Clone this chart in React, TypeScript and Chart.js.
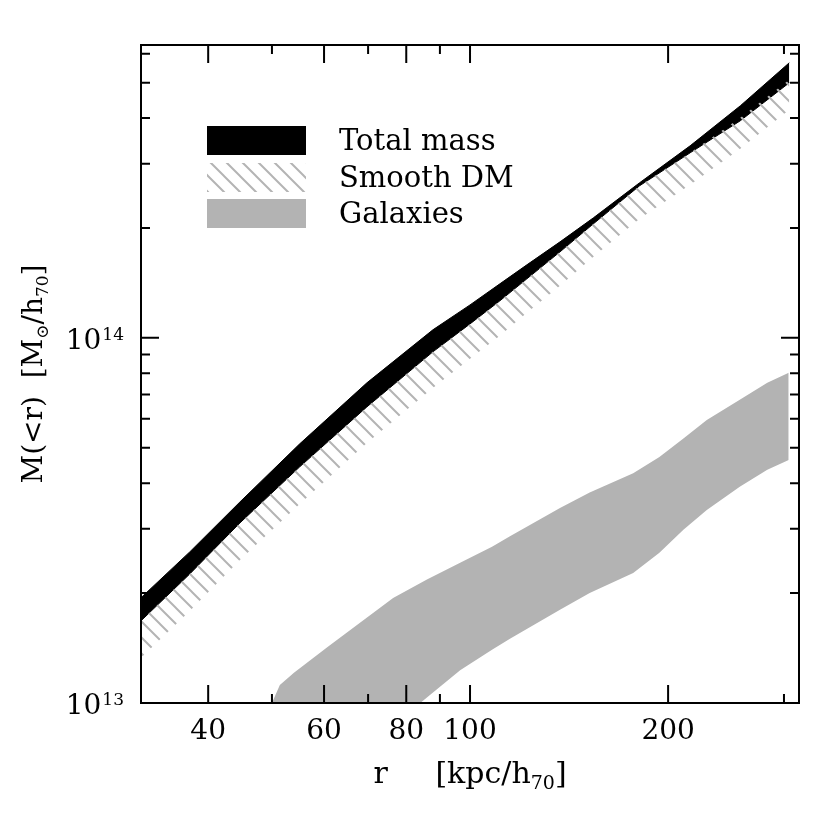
import { useEffect, useRef } from 'react';
import { Chart, registerables } from 'chart.js';

Chart.register(...registerables);

// ---- data ----
const rKpc = [30, 31.6, 37.5, 44.7, 55.1, 69.7, 87.8, 100, 111, 122, 137, 154, 181, 216, 257.5, 305.6];
const totalUpper = [1.764e13, 1.94e13, 2.593e13, 3.553e13, 5.125e13, 7.53e13, 1.052e14, 1.231e14, 1.406e14, 1.585e14, 1.832e14, 2.132e14, 2.659e14, 3.357e14, 4.321e14, 5.668e14];
const totalLower = [1.526e13, 1.677e13, 2.256e13, 3.113e13, 4.433e13, 6.47e13, 9.155e13, 1.092e14, 1.263e14, 1.451e14, 1.72e14, 2.053e14, 2.609e14, 3.212e14, 3.932e14, 4.996e14];
const smoothUpper = [1.526e13, 1.677e13, 2.256e13, 3.113e13, 4.433e13, 6.47e13, 9.155e13, 1.092e14, 1.263e14, 1.451e14, 1.72e14, 2.053e14, 2.609e14, 3.212e14, 4.006e14, 5.091e14];
const smoothLower = [1.208e13, 1.328e13, 1.786e13, 2.465e13, 3.51e13, 5.157e13, 7.295e13, 8.76e13, 1.013e14, 1.171e14, 1.389e14, 1.667e14, 2.118e14, 2.626e14, 3.295e14, 4.214e14];

const galR = [48, 50, 51.4, 54, 60.6, 76.4, 86, 96.6, 108, 115, 137, 152, 177, 194, 211, 229, 257, 283, 305];
const galUpper = [0.85e13, 1.0e13, 1.12e13, 1.21e13, 1.42e13, 1.94e13, 2.18e13, 2.42e13, 2.68e13, 2.86e13, 3.42e13, 3.77e13, 4.26e13, 4.72e13, 5.3e13, 5.96e13, 6.77e13, 7.53e13, 8.02e13];
const galLower = [4.3e12, 4.6e12, 4.8e12, 5.2e12, 6.1e12, 8.7e12, 1.035e13, 1.23e13, 1.4e13, 1.5e13, 1.8e13, 2.0e13, 2.27e13, 2.58e13, 2.98e13, 3.38e13, 3.91e13, 4.35e13, 4.63e13];

const xMin = 31.62;
const xMax = 316.2;
const yMin = 1e13;
const yMax = 6.34e14;

const xLabeledTicks = [40, 60, 80, 100, 200];
const xMinorTicks = [50, 70, 90, 300];
const yMajorTicks = [1e13, 1e14];
const yMajorExponents = ['13', '14'];
const yMinorTicks = [2e13, 3e13, 4e13, 5e13, 6e13, 7e13, 8e13, 9e13, 2e14, 3e14, 4e14, 5e14, 6e14];

const legendLabels = ['Total mass', 'Smooth DM', 'Galaxies'];

const FONT = '"DejaVu Serif", "Liberation Serif", serif';
const GRAY = '#b3b3b3';
const HATCH = '#b4b4b4';

type Part = { t: string; sub?: boolean };
const yTitle: Part[] = [{ t: 'M(<r)  [M' }, { t: '\u2299', sub: true }, { t: '/h' }, { t: '70', sub: true }, { t: ']' }];
const xTitle: Part[] = [{ t: 'r     [kpc/h' }, { t: '70', sub: true }, { t: ']' }];

function pts(xs: number[], ys: number[]) {
  return xs.map((x, i) => ({ x, y: ys[i] }));
}

function drawRich(ctx: CanvasRenderingContext2D, parts: Part[], cx: number, baseY: number, size: number) {
  const subSize = Math.round(size * 0.62);
  let total = 0;
  const widths = parts.map((p) => {
    ctx.font = `${p.sub ? subSize : size}px ${FONT}`;
    const w = ctx.measureText(p.t).width;
    total += w;
    return w;
  });
  let x = cx - total / 2;
  ctx.textAlign = 'left';
  ctx.textBaseline = 'alphabetic';
  parts.forEach((p, i) => {
    ctx.font = `${p.sub ? subSize : size}px ${FONT}`;
    ctx.fillText(p.t, x, baseY + (p.sub ? 6 : 0));
    x += widths[i];
  });
}

export default function App() {
  const ref = useRef<HTMLCanvasElement | null>(null);

  useEffect(() => {
    document.body.style.margin = '0';
    const canvas = ref.current!;
    const pc = document.createElement('canvas');
    pc.width = 16;
    pc.height = 16;
    const p = pc.getContext('2d')!;
    p.strokeStyle = HATCH;
    p.lineWidth = 2;
    p.beginPath();
    p.moveTo(-2, -2);
    p.lineTo(18, 18);
    p.moveTo(14, -2);
    p.lineTo(18, 2);
    p.moveTo(-2, 14);
    p.lineTo(2, 18);
    p.stroke();
    const ctx0 = canvas.getContext('2d')!;
    const hatch = ctx0.createPattern(pc, 'repeat')!;

    const decor = {
      id: 'decor',
      afterDraw(chart: any) {
        const ctx: CanvasRenderingContext2D = chart.ctx;
        const { left, right, top, bottom } = chart.chartArea;
        const xs = chart.scales.x;
        const ys = chart.scales.y;
        ctx.save();
        ctx.strokeStyle = '#000';
        ctx.fillStyle = '#000';
        ctx.lineWidth = 2;
        ctx.strokeRect(left, top, right - left, bottom - top);
        ctx.beginPath();
        const xt = (v: number, len: number) => {
          const px = xs.getPixelForValue(v);
          ctx.moveTo(px, bottom);
          ctx.lineTo(px, bottom - len);
          ctx.moveTo(px, top);
          ctx.lineTo(px, top + len);
        };
        const yt = (v: number, len: number) => {
          const py = ys.getPixelForValue(v);
          ctx.moveTo(left, py);
          ctx.lineTo(left + len, py);
          ctx.moveTo(right, py);
          ctx.lineTo(right - len, py);
        };
        xLabeledTicks.forEach((v) => xt(v, 18));
        xMinorTicks.forEach((v) => xt(v, 9));
        yMajorTicks.forEach((v) => yt(v, 18));
        yMinorTicks.forEach((v) => yt(v, 9));
        ctx.stroke();

        // x tick labels
        ctx.font = `28px ${FONT}`;
        ctx.textAlign = 'center';
        ctx.textBaseline = 'alphabetic';
        xLabeledTicks.forEach((v) => {
          ctx.fillText(String(v), xs.getPixelForValue(v), 739);
        });
        // y tick labels
        yMajorTicks.forEach((v, i) => {
          const py = ys.getPixelForValue(v);
          ctx.font = `17px ${FONT}`;
          ctx.textAlign = 'right';
          const sw = ctx.measureText(yMajorExponents[i]).width;
          ctx.fillText(yMajorExponents[i], 124, py + 2);
          ctx.font = `28px ${FONT}`;
          ctx.fillText('10', 124 - sw - 1, py + 11);
        });

        // axis titles
        drawRich(ctx, xTitle, (left + right) / 2, 783, 30);
        ctx.save();
        ctx.translate(42, (top + bottom) / 2);
        ctx.rotate(-Math.PI / 2);
        drawRich(ctx, yTitle, 0, 0, 28);
        ctx.restore();

        // legend
        const fills = ['#000', hatch, GRAY];
        const boxTops = [126, 163, 199];
        boxTops.forEach((bt, i) => {
          ctx.fillStyle = fills[i] as any;
          ctx.fillRect(207, bt, 99, 29);
          ctx.fillStyle = '#000';
          ctx.font = `29px ${FONT}`;
          ctx.textAlign = 'left';
          ctx.textBaseline = 'alphabetic';
          ctx.fillText(legendLabels[i], 339, bt + 24);
        });
        ctx.restore();
      },
    };

    const chart = new Chart(canvas, {
      type: 'line',
      data: {
        datasets: [
          { label: 'Smooth DM', data: pts(rKpc, smoothUpper), fill: '+1', backgroundColor: hatch, borderColor: 'transparent', borderWidth: 0, pointRadius: 0 },
          { label: 'Smooth DM lower', data: pts(rKpc, smoothLower), fill: false, borderColor: 'transparent', borderWidth: 0, pointRadius: 0 },
          { label: 'Total mass', data: pts(rKpc, totalUpper), fill: '+1', backgroundColor: '#000', borderColor: '#000', borderWidth: 1, pointRadius: 0 },
          { label: 'Total mass lower', data: pts(rKpc, totalLower), fill: false, borderColor: '#000', borderWidth: 1, pointRadius: 0 },
          { label: 'Galaxies', data: pts(galR, galUpper), fill: '+1', backgroundColor: GRAY, borderColor: 'transparent', borderWidth: 0, pointRadius: 0 },
          { label: 'Galaxies lower', data: pts(galR, galLower), fill: false, borderColor: 'transparent', borderWidth: 0, pointRadius: 0 },
        ] as any,
      },
      options: {
        responsive: false,
        animation: false,
        layout: { padding: { left: 141, top: 45, right: 31, bottom: 127 } },
        scales: {
          x: { type: 'logarithmic', min: xMin, max: xMax, display: false },
          y: { type: 'logarithmic', min: yMin, max: yMax, display: false },
        },
        plugins: { legend: { display: false }, tooltip: { enabled: false } },
      },
      plugins: [decor],
    });
    return () => chart.destroy();
  }, []);

  return (
    <div style={{ width: 830, height: 830, background: '#fff' }}>
      <canvas ref={ref} width={830} height={830} style={{ display: 'block', width: 830, height: 830 }} />
    </div>
  );
}
